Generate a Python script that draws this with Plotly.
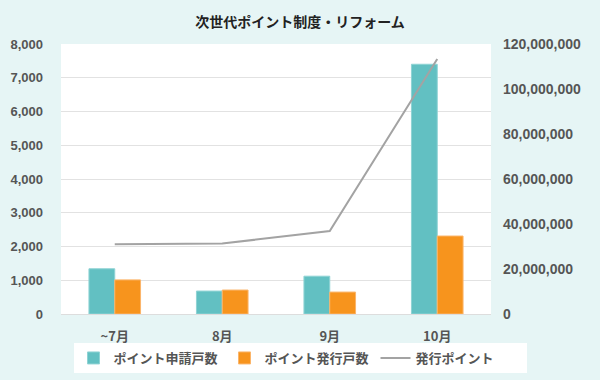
import plotly.graph_objects as go

categories = ["~7月", "8月", "9月", "10月"]
applications = [1340, 680, 1120, 7400]
issued_households = [1010, 710, 650, 2310]
issued_points = [31000000, 31300000, 36900000, 113300000]

teal = "#62c0c2"
orange = "#f7941d"
gray_line = "#a3a3a3"
bg = "#e6f5f5"
font_fam = "Noto Sans CJK JP, Noto Sans, sans-serif"
num_fam = "Liberation Sans, Arial, sans-serif"

W, H = 600, 380
ML, MR, MT, MB = 20, 20, 44, 7
plot_left, plot_right, plot_bottom = 61, 491, 314
pw = W - ML - MR
ph = H - MT - MB
x_dom = [(plot_left - ML) / pw, (plot_right - ML) / pw]
y_dom = [(H - MB - plot_bottom) / ph, 1]

fig = go.Figure()
fig.add_trace(go.Bar(x=categories, y=applications, name="ポイント申請戸数",
                     marker=dict(color=teal, line=dict(color="#8fd3d4", width=1)), yaxis="y"))
fig.add_trace(go.Bar(x=categories, y=issued_households, name="ポイント発行戸数",
                     marker=dict(color=orange, line=dict(color="#fbb56a", width=1)), yaxis="y"))
fig.add_trace(go.Scatter(x=categories, y=issued_points, name="発行ポイント", mode="lines",
                         line=dict(color=gray_line, width=2), yaxis="y2"))

fig.update_layout(
    width=W, height=H,
    paper_bgcolor=bg, plot_bgcolor="white",
    margin=dict(l=ML, r=MR, t=MT, b=MB),
    title=dict(text="<b>次世代ポイント制度・リフォーム</b>", x=0.5, xanchor="center", y=0.942, yanchor="middle",
               font=dict(family=font_fam, size=14, color="#222")),
    barmode="group", bargap=0.52, bargroupgap=0,
    font=dict(family=font_fam, size=13, color="#555"),
    xaxis=dict(domain=x_dom, showgrid=False, automargin=False,
               tickfont=dict(size=13, color="#555", family=font_fam, weight="bold"),
               ticks="", showline=True, linecolor="#dddddd", ticklabelstandoff=10),
    yaxis=dict(domain=y_dom, range=[0, 8000], dtick=1000, tickformat=",d", gridcolor="#e2e2e2",
               zeroline=False, showline=False, ticks="", ticklabelstandoff=17, automargin=False,
               tickfont=dict(size=13, color="#555", family=num_fam, weight="bold")),
    yaxis2=dict(range=[0, 120000000], dtick=20000000, tickformat=",d", overlaying="y", side="right",
                anchor="x", showgrid=False, zeroline=False, ticks="", ticklabelstandoff=11, automargin=False,
                tickfont=dict(size=14, color="#555", family=num_fam, weight="bold")),
    legend=dict(orientation="h", x=0.5, xanchor="center", y=0.0, yanchor="bottom",
                bgcolor="white", font=dict(size=13, color="#555", family=font_fam, weight="bold"),
                traceorder="normal", entrywidth=106),
    showlegend=True,
)

fig.write_html("out.html", post_script="document.body.style.margin='0';",
               config={"displayModeBar": False})
